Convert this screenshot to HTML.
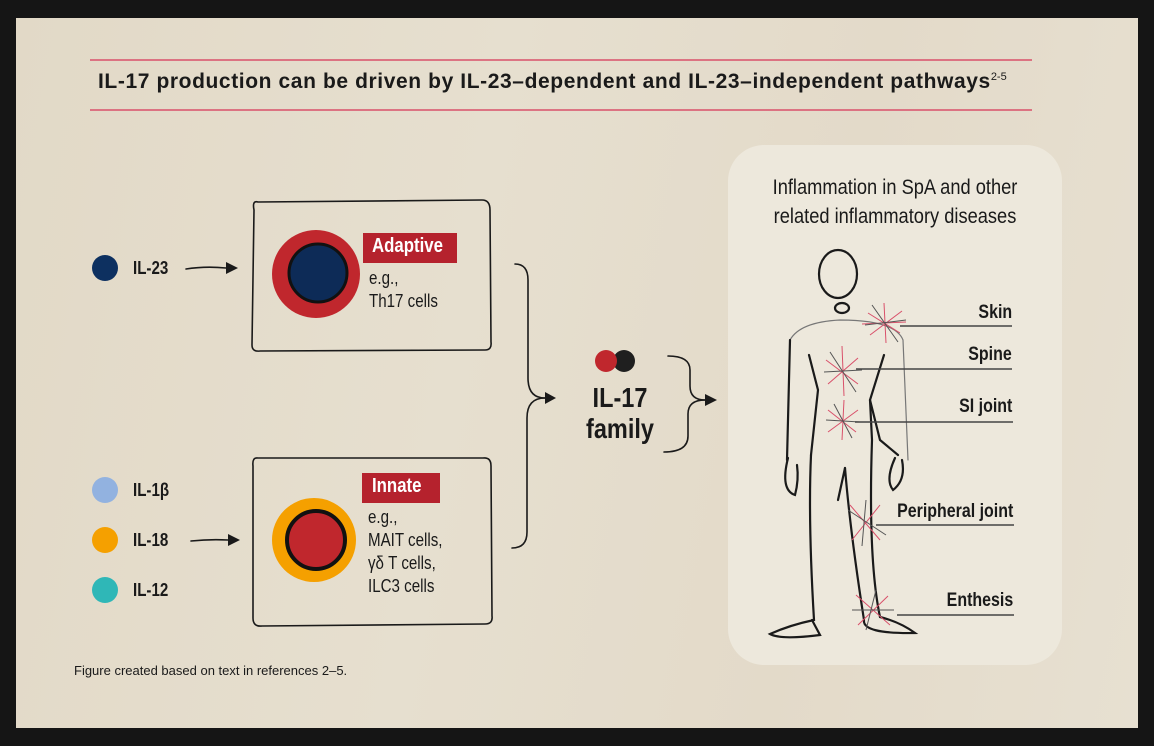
<!DOCTYPE html>
<html><head><meta charset="utf-8"><style>
html,body{margin:0;padding:0;background:#151515;}
body{width:1154px;height:746px;position:relative;overflow:hidden;font-family:"Liberation Sans",sans-serif;}
.bg{position:absolute;left:16px;top:18px;width:1122px;height:710px;background:linear-gradient(100deg,#e2d9c7,#e6dfcf 40%,#e3dac9 70%,#e7e0d1);}
.t{position:absolute;color:#1a1a1a;white-space:nowrap;transform:scaleX(0.84);transform-origin:left top;}
.r{transform-origin:right top;}
</style></head><body>
<div class="bg"></div>
<svg width="1154" height="746" style="position:absolute;left:0;top:0">
<rect x="728" y="145" width="334" height="520" rx="36" fill="#ede8dc"/>
<line x1="90" y1="60" x2="1032" y2="60" stroke="#d9506a" stroke-width="1.5"/>
<line x1="90" y1="110" x2="1032" y2="110" stroke="#d9506a" stroke-width="1.5"/>
<g fill="none" stroke="#1a1a1a" stroke-width="1.6" stroke-linecap="round">
<path d="M258 202 Q252 200 254 210 L252 345 Q252 352 260 351 L485 350 Q492 350 491 342 L490 210 Q490 200 482 200 Z"/>
<path d="M258 458 Q252 457 253 466 L253 618 Q253 627 262 626 L485 624 Q493 624 492 616 L491 466 Q491 457 483 458 Z"/>
<path d="M515 264 Q528 264 528 280 L528 378 Q528 398 545 398"/>
<path d="M512 548 Q527 548 527 532 L527 418 Q527 398 545 398"/>
<path d="M668 356 Q690 356 690 370 L690 386 Q690 400 705 400"/>
<path d="M664 452 Q688 452 688 436 L688 414 Q688 400 705 400"/>
<path d="M186 269 Q205 266 226 268"/>
<path d="M191 541 Q210 539 228 540"/>
</g>
<g fill="#1a1a1a">
<path d="M226 262 L238 268 L226 274 Z"/><path d="M228 534 L240 540 L228 546 Z"/>
<path d="M545 392 L556 398 L545 404 Z"/><path d="M705 394 L717 400 L705 406 Z"/>
</g>
<circle cx="105" cy="268" r="13" fill="#0d3060"/>
<circle cx="105" cy="490" r="13" fill="#92b2e0"/>
<circle cx="105" cy="540" r="13" fill="#f5a000"/>
<circle cx="105" cy="590" r="13" fill="#2fb7b7"/>
<circle cx="316" cy="274" r="44" fill="#c0272d"/>
<circle cx="318" cy="273" r="29" fill="#0d2b57" stroke="#111" stroke-width="3"/>
<circle cx="314" cy="540" r="42" fill="#f5a000"/>
<circle cx="316" cy="540" r="29" fill="#c0272d" stroke="#111" stroke-width="4"/>
<circle cx="624" cy="361" r="11" fill="#1f1f1f"/>
<circle cx="606" cy="361" r="11" fill="#c0272d"/>
<rect x="363" y="233" width="94" height="30" fill="#b5222d"/>
<rect x="362" y="473" width="78" height="30" fill="#b5222d"/>
<g fill="none" stroke="#1a1a1a" stroke-width="2.2" stroke-linecap="round">
<ellipse cx="838" cy="274" rx="19" ry="24"/>
<ellipse cx="842" cy="308" rx="7" ry="5"/>
<path d="M790 340 Q800 322 840 320 Q895 320 903 340 L908 460" stroke-width="1.2" stroke="#777"/>
<path d="M790 340 L787 460"/>
<path d="M809 355 L818 390 L811 455"/>
<path d="M884 355 L870 400 L880 440 L898 455"/>
<path d="M788 458 Q780 490 795 495 Q799 480 797 465"/>
<path d="M895 458 Q885 480 893 490 Q906 480 902 460"/>
<path d="M811 455 Q808 520 814 620 Q790 625 770 634 Q780 640 820 635 L812 620"/>
<path d="M845 468 Q850 530 864 620 Q862 634 915 633 Q900 622 880 617 Q868 560 872 440 L870 400"/>
<path d="M845 468 L838 500"/>
</g>
<g stroke-width="1">
<g stroke="#d9506a"><path d="M868 313 L900 333 M870 335 L902 311 M884 303 L886 343 M862 324 L906 322"/>
<path d="M826 360 L858 384 M828 384 L858 358 M842 346 L844 396"/>
<path d="M828 410 L856 432 M828 432 L858 410 M844 400 L842 440"/>
<path d="M850 505 L880 540 M852 540 L880 505"/>
<path d="M856 595 L890 625 M858 625 L888 596"/></g>
<g stroke="#555"><path d="M872 305 L898 342 M865 325 L906 320 M830 352 L856 392 M824 372 L862 370 M826 420 L860 422 M834 404 L852 438 M848 510 L886 535 M866 500 L862 546 M852 610 L894 610 M876 590 L866 630"/></g>
</g>
<g stroke="#444" stroke-width="1.5">
<line x1="900" y1="326" x2="1012" y2="326"/><line x1="856" y1="369" x2="1012" y2="369"/>
<line x1="855" y1="422" x2="1013" y2="422"/><line x1="876" y1="525" x2="1014" y2="525"/>
<line x1="897" y1="615" x2="1014" y2="615"/>
</g>
</svg>
<div style="position:absolute;left:98px;top:70px;font-size:21px;font-weight:bold;color:#1a1a1a;white-space:nowrap;letter-spacing:0.6px">IL-17 production can be driven by IL-23–dependent and IL-23–independent pathways<sup style="font-size:11px;font-weight:normal;letter-spacing:0">2-5</sup></div>
<div class="t" style="left:133px;top:258px;font-size:18px;font-weight:bold">IL-23</div>
<div class="t" style="left:133px;top:480px;font-size:18px;font-weight:bold">IL-1β</div>
<div class="t" style="left:133px;top:530px;font-size:18px;font-weight:bold">IL-18</div>
<div class="t" style="left:133px;top:580px;font-size:18px;font-weight:bold">IL-12</div>
<div class="t" style="left:372px;top:235px;font-size:20px;font-weight:bold;color:#fff">Adaptive</div>
<div class="t" style="left:369px;top:267px;font-size:18px;line-height:23px">e.g.,<br>Th17 cells</div>
<div class="t" style="left:372px;top:475px;font-size:20px;font-weight:bold;color:#fff">Innate</div>
<div class="t" style="left:368px;top:506px;font-size:18px;line-height:23px">e.g.,<br>MAIT cells,<br>γδ T cells,<br>ILC3 cells</div>
<div class="t" style="left:572px;top:382px;font-size:28px;font-weight:bold;text-align:center;line-height:31px;width:96px;transform-origin:center top">IL-17<br>family</div>
<div class="t" style="left:730px;top:173px;font-size:21px;text-align:center;width:330px;line-height:29px;transform:scaleX(0.87);transform-origin:center top">Inflammation in SpA and other<br>related inflammatory diseases</div>
<div class="t r" style="right:142px;top:302px;font-size:19px;font-weight:bold">Skin</div>
<div class="t r" style="right:142px;top:344px;font-size:19px;font-weight:bold">Spine</div>
<div class="t r" style="right:142px;top:396px;font-size:19px;font-weight:bold">SI joint</div>
<div class="t r" style="right:141px;top:501px;font-size:19px;font-weight:bold">Peripheral joint</div>
<div class="t r" style="right:141px;top:590px;font-size:19px;font-weight:bold">Enthesis</div>
<div style="position:absolute;left:74px;top:663px;font-size:13px;color:#1a1a1a;white-space:nowrap">Figure created based on text in references 2–5.</div>
</body></html>
